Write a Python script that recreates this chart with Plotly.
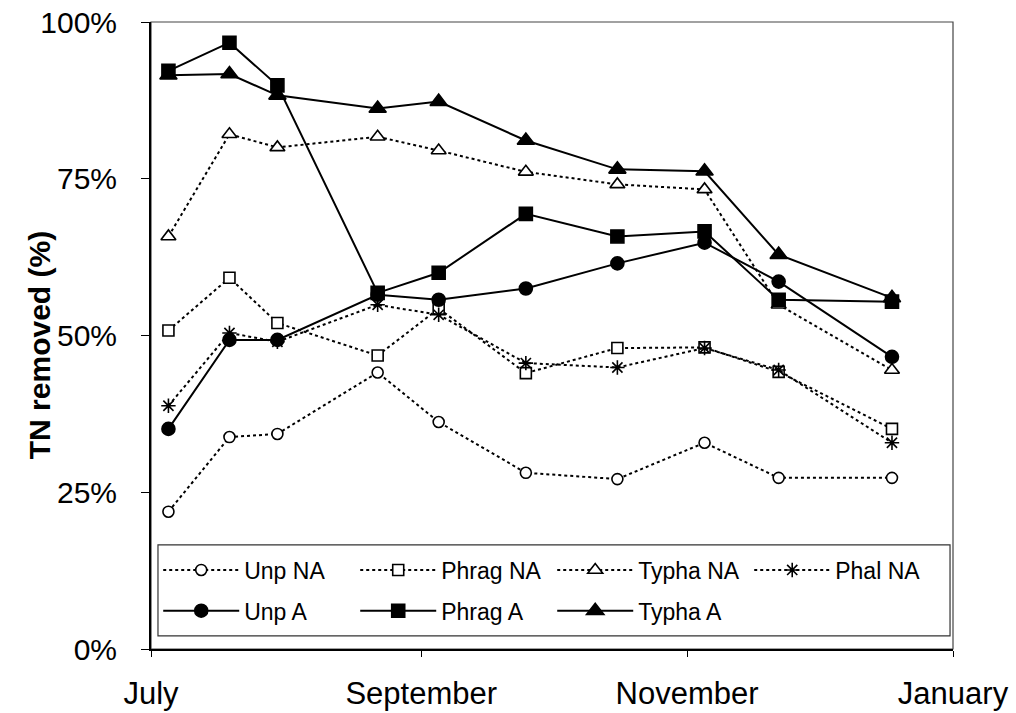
import plotly.graph_objects as go

# Sampling dates (Jul 2000 - Jan 2001)
dates = ["2000-07-05", "2000-07-19", "2000-07-30", "2000-08-22", "2000-09-05",
         "2000-09-25", "2000-10-16", "2000-11-05", "2000-11-22", "2000-12-18"]

# Total nitrogen removed (%) per treatment
unp_na   = [21.9, 33.8, 34.3, 44.1, 36.2, 28.1, 27.1, 32.9, 27.3, 27.3]
phrag_na = [50.8, 59.2, 52.0, 46.8, 54.3, 44.0, 48.0, 48.1, 44.2, 35.1]
typha_na = [65.8, 82.1, 80.0, 81.7, 79.5, 76.1, 74.1, 73.3, 54.9, 44.5]
phal_na  = [38.8, 50.4, 49.0, 54.9, 53.3, 45.6, 44.9, 48.0, 44.5, 32.9]
unp_a    = [35.1, 49.3, 49.3, 56.5, 55.7, 57.5, 61.5, 64.8, 58.6, 46.6]
phrag_a  = [92.2, 96.7, 89.9, 56.8, 60.0, 69.4, 65.8, 66.6, 55.7, 55.4]
typha_a  = [91.5, 91.7, 88.3, 86.2, 87.3, 81.1, 76.5, 76.2, 62.9, 56.0]

month_ticks = ["2000-07-01", "2000-09-01", "2000-11-01", "2001-01-01"]
month_labels = ["July", "September", "November", "January"]
y_ticks = [0, 25, 50, 75, 100]
y_labels = ["0%", "25%", "50%", "75%", "100%"]

# name, values, dash, marker symbol, fill, size, legend row
series = [
    ("Unp NA", unp_na, "dot", "circle", "white", 11, "legend"),
    ("Phrag NA", phrag_na, "dot", "square", "white", 11, "legend"),
    ("Typha NA", typha_na, "dot", "triangle-up", "white", 13, "legend"),
    ("Phal NA", phal_na, "dot", "asterisk-open", "black", 12, "legend"),
    ("Unp A", unp_a, "solid", "circle", "black", 13, "legend2"),
    ("Phrag A", phrag_a, "solid", "square", "black", 13, "legend2"),
    ("Typha A", typha_a, "solid", "triangle-up", "black", 15, "legend2"),
]

fig = go.Figure()
for name, vals, dash, sym, fill, size, leg in series:
    fig.add_trace(go.Scatter(
        x=dates, y=vals, name=name, mode="lines+markers", legend=leg,
        line=dict(color="black", width=2, dash=dash),
        marker=dict(symbol=sym, size=size, color=fill,
                    line=dict(color="black", width=1.6)),
    ))

font_family = "Liberation Sans, Arial, sans-serif"

legend_style = dict(
    orientation="h", x=0.009, xanchor="left", yanchor="middle",
    borderwidth=0, bgcolor="rgba(0,0,0,0)",
    font=dict(size=23, family=font_family),
    itemwidth=76,
    entrywidth=106, entrywidthmode="pixels",
    traceorder="normal",
)

fig.update_layout(
    width=1016, height=713,
    margin=dict(l=151, r=63, t=22, b=64),
    paper_bgcolor="white", plot_bgcolor="white",
    font=dict(family=font_family, color="black"),
    showlegend=True,
    legend=dict(legend_style, y=0.126),
    legend2=dict(legend_style, y=0.061),
    xaxis=dict(
        type="date", range=["2000-07-01", "2001-01-01"],
        tickvals=month_ticks, ticktext=month_labels,
        ticks="outside", ticklen=6, tickcolor="black", tickwidth=1,
        tickfont=dict(size=31, family=font_family),
        showgrid=False, zeroline=False,
        showline=True, linecolor="black", linewidth=2,
        ticklabelstandoff=10, automargin=False,
    ),
    yaxis=dict(
        range=[0, 100], tickvals=y_ticks, ticktext=y_labels,
        ticks="outside", ticklen=8, tickcolor="black", tickwidth=1,
        tickfont=dict(size=30, family=font_family),
        showgrid=False, zeroline=False,
        showline=True, linecolor="black", linewidth=2,
        ticklabelstandoff=18, automargin=False,
    ),
)

# Y axis title
fig.add_annotation(text="<b>TN removed (%)</b>", textangle=-90,
                   xref="paper", yref="paper", x=-0.138, y=0.485,
                   xanchor="center", yanchor="middle", showarrow=False,
                   font=dict(size=30, family=font_family, color="black"))

# Thin frame around the plotting area
fig.add_shape(type="rect", xref="x domain", yref="y domain",
              x0=0, x1=1, y0=0, y1=1,
              line=dict(color="#444", width=1.2), layer="below")

# Box enclosing both legend rows
fig.add_shape(type="rect", xref="x domain", yref="y domain",
              x0=0.0087, x1=0.9963, y0=0.0208, y1=0.166,
              line=dict(color="#333", width=1.2), fillcolor="white", layer="below")

fig.write_html("out.html")
